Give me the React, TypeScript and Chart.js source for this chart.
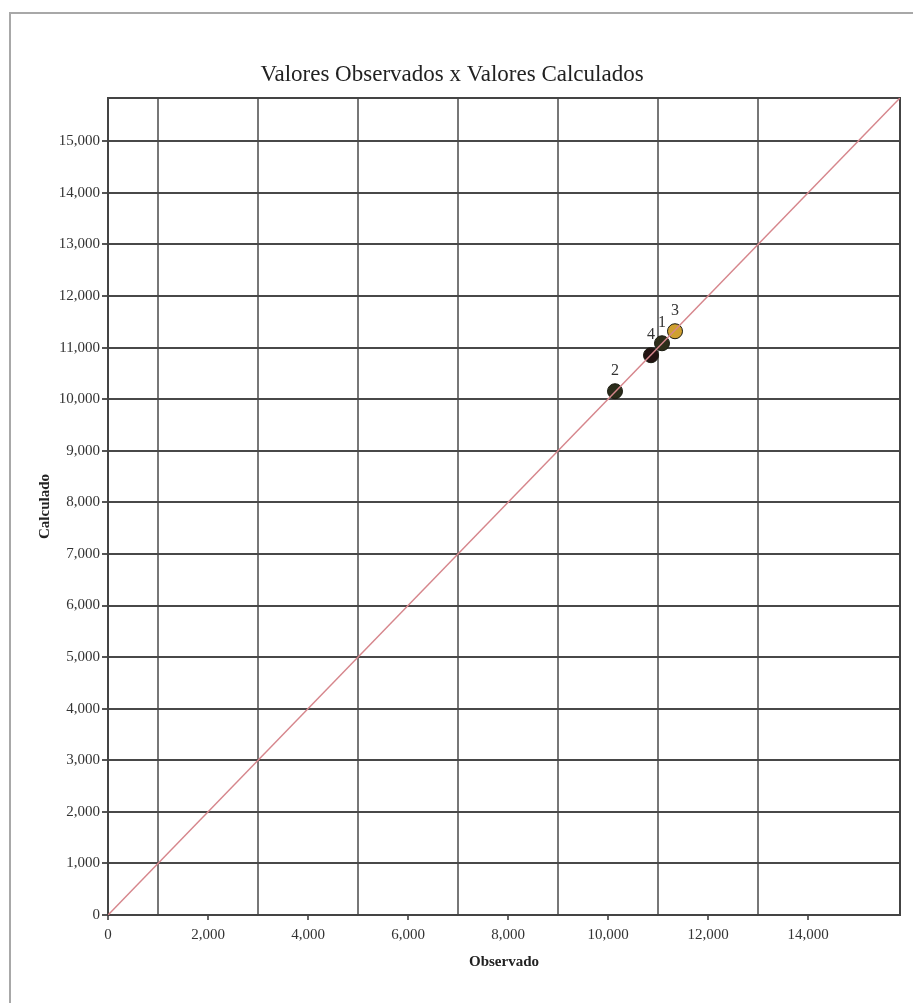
import React, { useEffect, useRef } from "react";
import { Chart, registerables } from "chart.js";

Chart.register(...registerables);

const TITLE = "Valores Observados x Valores Calculados";
const X_TITLE = "Observado";
const Y_TITLE = "Calculado";
const AXIS_MAX = 15840;
const X_TICKS = [0, 1000, 2000, 3000, 4000, 5000, 6000, 7000, 8000, 9000, 10000, 11000, 12000, 13000, 14000, 15000];
const X_LABELED = [0, 2000, 4000, 6000, 8000, 10000, 12000, 14000];
const X_GRID = [1000, 3000, 5000, 7000, 9000, 11000, 13000];
const Y_TICKS = [0, 1000, 2000, 3000, 4000, 5000, 6000, 7000, 8000, 9000, 10000, 11000, 12000, 13000, 14000, 15000];
const POINT_LABELS = ["3", "4", "1", "2"];
const OBSERVED = [11340, 10860, 11080, 10140];
const CALCULATED = [11318, 10853, 11085, 10155];
const POINT_COLORS = ["#cfa030", "#221312", "#2e2e1a", "#2a2c1a"];
const LINE_X = [0, AXIS_MAX];
const LINE_Y = [0, AXIS_MAX];

const SERIF = '"Liberation Serif", "Times New Roman", serif';

const fmt = (v: number) => v.toLocaleString("en-US");

const decorPlugin = {
  id: "decor",
  beforeDraw(chart: any) {
    const ctx = chart.ctx;
    ctx.save();
    ctx.fillStyle = "#ffffff";
    ctx.fillRect(0, 0, chart.width, chart.height);
    ctx.strokeStyle = "#a8a8a8";
    ctx.lineWidth = 2;
    ctx.beginPath();
    ctx.moveTo(10, 1003);
    ctx.lineTo(10, 13);
    ctx.lineTo(913, 13);
    ctx.stroke();
    ctx.restore();
  },
  beforeDatasetsDraw(chart: any) {
    const { ctx, chartArea } = chart;
    ctx.save();
    ctx.strokeStyle = "#444";
    ctx.lineWidth = 2;
    ctx.strokeRect(chartArea.left, chartArea.top, chartArea.right - chartArea.left, chartArea.bottom - chartArea.top);
    ctx.restore();
  },
  afterDatasetsDraw(chart: any) {
    const ctx = chart.ctx;
    ctx.save();
    const meta = chart.getDatasetMeta(1);
    ctx.fillStyle = "#333";
    ctx.font = `16px ${SERIF}`;
    ctx.textAlign = "center";
    ctx.textBaseline = "bottom";
    meta.data.forEach((el: any, i: number) => {
      ctx.fillText(POINT_LABELS[i], el.x, el.y - 12);
    });
    ctx.restore();
  },
  afterDraw(chart: any) {
    const { ctx, chartArea } = chart;
    ctx.save();
    ctx.fillStyle = "#222";
    ctx.textAlign = "center";
    ctx.textBaseline = "middle";
    ctx.font = `23px ${SERIF}`;
    ctx.fillText(TITLE, 452, 75);
    ctx.font = `bold 15px ${SERIF}`;
    ctx.fillText(X_TITLE, (chartArea.left + chartArea.right) / 2, 962);
    ctx.translate(45, (chartArea.top + chartArea.bottom) / 2);
    ctx.rotate(-Math.PI / 2);
    ctx.fillText(Y_TITLE, 0, 0);
    ctx.restore();
  },
};

export default function App() {
  const ref = useRef<HTMLCanvasElement | null>(null);
  useEffect(() => {
    if (!ref.current) return;
    const chart = new Chart(ref.current, {
      type: "scatter",
      data: {
        datasets: [
          {
            label: "y = x",
            data: LINE_X.map((x, i) => ({ x, y: LINE_Y[i] })),
            showLine: true,
            borderColor: "#d6868c",
            borderWidth: 1.5,
            pointRadius: 0,
          },
          {
            label: "Pontos",
            data: OBSERVED.map((x, i) => ({ x, y: CALCULATED[i] })),
            pointRadius: 7.5,
            pointBackgroundColor: POINT_COLORS,
            pointBorderColor: "#1a1a10",
            pointBorderWidth: 1,
          },
        ],
      },
      options: {
        responsive: false,
        animation: false,
        layout: { padding: { top: 98, right: 13, bottom: 0, left: 0 } },
        plugins: {
          legend: { display: false },
          title: { display: false },
          tooltip: { enabled: false },
        },
        scales: {
          x: {
            type: "linear",
            min: 0,
            max: AXIS_MAX,
            afterFit: (s: any) => {
              s.height = 88;
            },
            afterBuildTicks: (s: any) => {
              s.ticks = X_TICKS.map((v) => ({ value: v }));
            },
            ticks: {
              autoSkip: false,
              maxRotation: 0,
              padding: 6,
              color: "#333",
              font: { family: SERIF, size: 15 },
              callback: (v: any) => (X_LABELED.includes(Number(v)) ? fmt(Number(v)) : ""),
            },
            grid: {
              color: (c: any) => (c.tick && X_GRID.includes(c.tick.value) ? "#777" : "rgba(0,0,0,0)"),
              tickColor: (c: any) => (c.tick && X_LABELED.includes(c.tick.value) ? "#666" : "rgba(0,0,0,0)"),
              lineWidth: 2,
              tickLength: 5,
            },
            border: { display: true, color: "#444", width: 2 },
          },
          y: {
            type: "linear",
            min: 0,
            max: AXIS_MAX,
            afterFit: (s: any) => {
              s.width = 108;
            },
            afterBuildTicks: (s: any) => {
              s.ticks = Y_TICKS.map((v) => ({ value: v }));
            },
            ticks: {
              autoSkip: false,
              padding: 2,
              color: "#333",
              font: { family: SERIF, size: 15 },
              callback: (v: any) => fmt(Number(v)),
            },
            grid: {
              color: "#484848",
              tickColor: "#555",
              lineWidth: 2,
              tickLength: 6,
            },
            border: { display: true, color: "#444", width: 2 },
          },
        },
      },
      plugins: [decorPlugin],
    } as any);
    return () => chart.destroy();
  }, []);
  return (
    <div style={{ position: "absolute", left: 0, top: 0, width: 913, height: 1003 }}>
      <canvas ref={ref} width={913} height={1003} />
    </div>
  );
}
